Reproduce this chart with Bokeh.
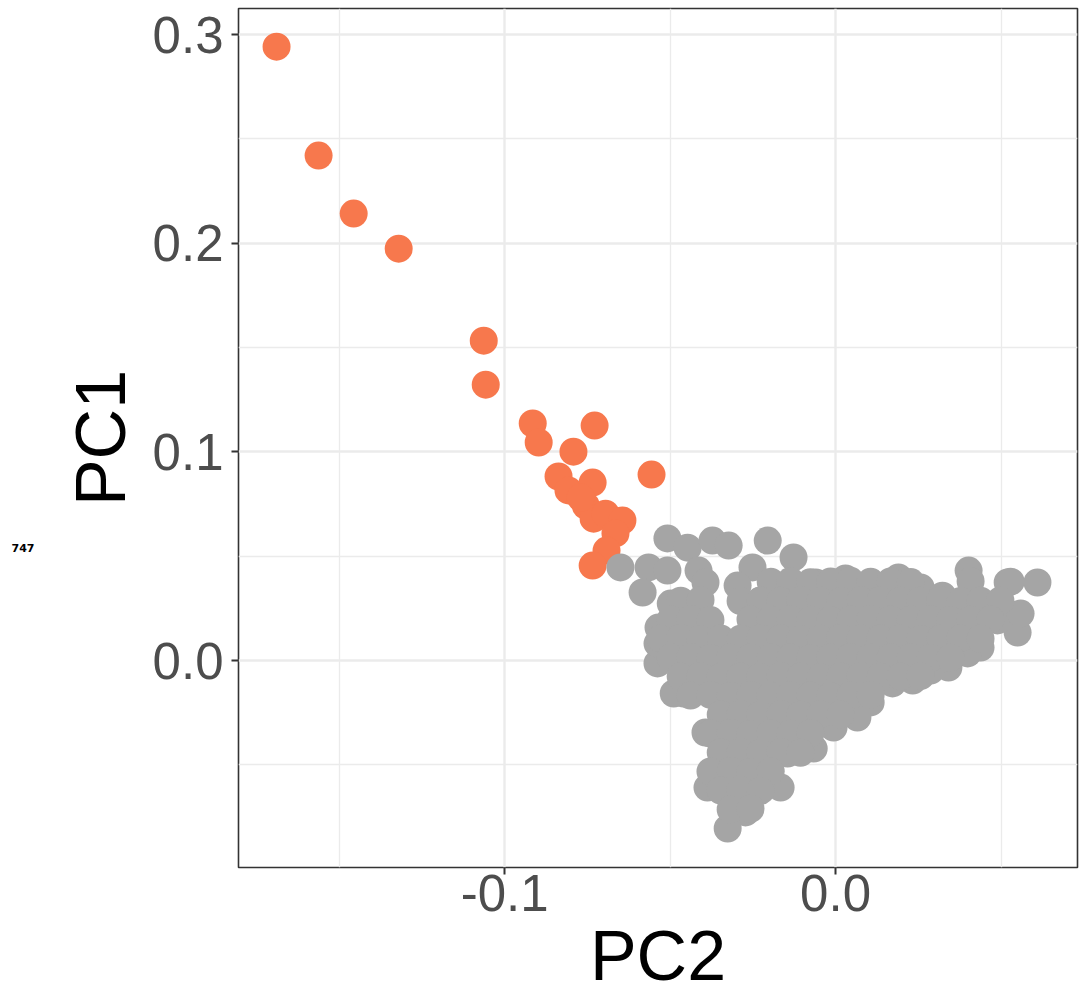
from bokeh.plotting import figure
from bokeh.models import FixedTicker, LinearAxis
from bokeh.embed import file_html
from bokeh.resources import INLINE

# Axis ticks
x_ticks = [-0.1, 0.0]
x_tick_labels = ["-0.1", "0.0"]
x_minor = [-0.15, -0.05, 0.05]
y_ticks = [0.0, 0.1, 0.2, 0.3]
y_tick_labels = ["0.0", "0.1", "0.2", "0.3"]
y_minor = [-0.05, 0.05, 0.15, 0.25]

# Sample count shown in the left margin
count_label = "747"
count_pos = 0.0541

# Highlighted samples (PC2, PC1)
orange_pc2 = [-0.1689, -0.1562, -0.1456, -0.1320, -0.1063, -0.1057, -0.0915, -0.0897,
              -0.0728, -0.0792, -0.0556, -0.0837, -0.0807, -0.0734, -0.0755, -0.0731,
              -0.0695, -0.0644, -0.0665, -0.0692, -0.0734, -0.0770]
orange_pc1 = [0.2942, 0.2420, 0.2142, 0.1974, 0.1533, 0.1322, 0.1136, 0.1045,
              0.1126, 0.1001, 0.0891, 0.0882, 0.0815, 0.0853, 0.0743, 0.0680,
              0.0704, 0.0671, 0.0609, 0.0527, 0.0455, 0.0781]

# Remaining samples (PC2, PC1)
gray_pc2 = [
    # outer samples
    -0.0508, -0.0447, -0.0372, -0.0323, -0.0205, -0.0127, -0.0650, -0.0565, -0.0508,
    -0.0583, -0.0414, -0.0393, -0.0251, -0.0296, -0.0227, -0.0060, 0.0030, 0.0106,
    0.0190, 0.0257, 0.0323, 0.0402, 0.0520, 0.0610, 0.0550, 0.0550, 0.0489, 0.0438,
    0.0399, 0.0341, 0.0287, 0.0233, 0.0172, 0.0106, 0.0066, -0.0006, -0.0066, -0.0145,
    -0.0166, -0.0248, -0.0272, -0.0326, -0.0387, -0.0372, -0.0393, -0.0459, -0.0489,
    -0.0538, -0.0538, -0.0535, -0.0498, 0.0559,
    # core
    -0.0196, -0.0136, -0.0076, -0.0015, 0.0045, 0.0106, 0.0166, 0.0227, 0.0408, 0.0529,
    -0.0468, -0.0408, -0.0287, -0.0227, -0.0166, -0.0106, -0.0045, 0.0015, 0.0076,
    0.0136, 0.0196, 0.0257, 0.0317, 0.0378, 0.0438, 0.0498,
    -0.0498, -0.0438, -0.0378, -0.0257, -0.0196, -0.0136, -0.0076, -0.0015, 0.0045,
    0.0106, 0.0166, 0.0227, 0.0287, 0.0347, 0.0408, 0.0468,
    -0.0529, -0.0468, -0.0408, -0.0347, -0.0287, -0.0227, -0.0166, -0.0106, -0.0045,
    0.0015, 0.0076, 0.0136, 0.0196, 0.0257, 0.0317, 0.0378, 0.0438,
    -0.0498, -0.0438, -0.0378, -0.0317, -0.0257, -0.0196, -0.0136, -0.0076, -0.0015,
    0.0045, 0.0106, 0.0166, 0.0227, 0.0287, 0.0347,
    -0.0468, -0.0408, -0.0347, -0.0287, -0.0227, -0.0166, -0.0106, -0.0045, 0.0015,
    0.0076, 0.0136, 0.0196, 0.0257,
    -0.0438, -0.0378, -0.0317, -0.0257, -0.0196, -0.0136, -0.0076, -0.0015, 0.0045, 0.0106,
    -0.0347, -0.0287, -0.0227, -0.0166, -0.0106, -0.0045, 0.0015,
    -0.0378, -0.0317, -0.0257, -0.0196, -0.0136, -0.0076,
    -0.0347, -0.0287, -0.0227, -0.0166, -0.0106,
    -0.0378, -0.0317, -0.0257, -0.0196,
    -0.0347, -0.0287, -0.0227,
    -0.0317, -0.0257,
]
gray_pc1 = [
    0.0585, 0.0541, 0.0575, 0.0551, 0.0575, 0.0494, 0.0446, 0.0446, 0.0431,
    0.0326, 0.0431, 0.0374, 0.0446, 0.0359, 0.0287, 0.0374, 0.0393, 0.0374,
    0.0398, 0.0350, 0.0311, 0.0431, 0.0374, 0.0374, 0.0216, 0.0134, 0.0192, 0.0062,
    0.0034, -0.0034, -0.0048, -0.0096, -0.0110, -0.0201, -0.0273, -0.0321, -0.0422, -0.0446,
    -0.0609, -0.0609, -0.0728, -0.0805, -0.0609, -0.0541, -0.0345, -0.0158, -0.0158,
    -0.0014, 0.0081, 0.0158, 0.0273, 0.0225,
    0.0378, 0.0381, 0.0375, 0.0379, 0.0382, 0.0377, 0.0379, 0.0376, 0.0380, 0.0378,
    0.0287, 0.0290, 0.0285, 0.0288, 0.0286, 0.0289, 0.0287, 0.0284, 0.0288,
    0.0290, 0.0286, 0.0287, 0.0289, 0.0285, 0.0287, 0.0288,
    0.0196, 0.0199, 0.0194, 0.0197, 0.0195, 0.0198, 0.0196, 0.0193, 0.0197,
    0.0199, 0.0195, 0.0196, 0.0198, 0.0194, 0.0196, 0.0197,
    0.0105, 0.0108, 0.0103, 0.0106, 0.0104, 0.0107, 0.0105, 0.0102, 0.0106,
    0.0108, 0.0104, 0.0105, 0.0107, 0.0103, 0.0105, 0.0106, 0.0104,
    0.0014, 0.0017, 0.0012, 0.0015, 0.0013, 0.0016, 0.0014, 0.0011, 0.0015,
    0.0017, 0.0013, 0.0014, 0.0016, 0.0012, 0.0014,
    -0.0077, -0.0074, -0.0079, -0.0076, -0.0078, -0.0075, -0.0077, -0.0080, -0.0076,
    -0.0074, -0.0078, -0.0077, -0.0075,
    -0.0168, -0.0165, -0.0170, -0.0167, -0.0169, -0.0166, -0.0168, -0.0171, -0.0167, -0.0165,
    -0.0259, -0.0256, -0.0261, -0.0258, -0.0260, -0.0257, -0.0259,
    -0.0350, -0.0347, -0.0352, -0.0349, -0.0351, -0.0348,
    -0.0441, -0.0438, -0.0443, -0.0440, -0.0442,
    -0.0532, -0.0529, -0.0534, -0.0531,
    -0.0623, -0.0620, -0.0625,
    -0.0714, -0.0711,
]

TICK_FONT = "Liberation Sans"

p = figure(
    width=1079, height=998,
    x_range=(-0.1804, 0.0731), y_range=(-0.0992, 0.3125),
    min_border_left=238, min_border_right=2, min_border_top=8, min_border_bottom=131,
    output_backend="svg", toolbar_location=None,
    background_fill_color="white", border_fill_color="white",
)

p.outline_line_color = "#333333"
p.outline_line_width = 1.6

p.xaxis.ticker = FixedTicker(ticks=x_ticks, minor_ticks=x_minor)
p.yaxis.ticker = FixedTicker(ticks=y_ticks, minor_ticks=y_minor)
p.xaxis.major_label_overrides = {t: s for t, s in zip(x_ticks, x_tick_labels)}
p.yaxis.major_label_overrides = {t: s for t, s in zip(y_ticks, y_tick_labels)}

for g in (p.xgrid, p.ygrid):
    g.grid_line_color = "#EBEBEB"
    g.grid_line_width = 2.4
    g.minor_grid_line_color = "#EBEBEB"
    g.minor_grid_line_width = 1.3

for ax in (p.xaxis, p.yaxis):
    ax.axis_line_color = None
    ax.major_tick_out = 7
    ax.major_tick_in = 0
    ax.major_tick_line_color = "#333333"
    ax.major_tick_line_width = 2
    ax.minor_tick_out = 0
    ax.minor_tick_in = 0
    ax.major_label_text_font = TICK_FONT
    ax.major_label_text_font_size = "51px"
    ax.major_label_text_color = "#4D4D4D"
    ax.axis_label_text_font = TICK_FONT
    ax.axis_label_text_font_size = "70px"
    ax.axis_label_text_font_style = "normal"
    ax.axis_label_text_color = "black"

p.xaxis.axis_label = "PC2"
p.yaxis.axis_label = "PC1"
p.xaxis.major_label_standoff = 0
p.xaxis.axis_label_standoff = 3
p.yaxis.major_label_standoff = 8
p.yaxis.axis_label_standoff = 10

# Outer left axis carrying only the sample count
count_axis = LinearAxis(
    ticker=FixedTicker(ticks=[count_pos], minor_ticks=[]),
    major_label_overrides={count_pos: count_label},
    axis_line_color=None, major_tick_out=0, major_tick_in=0,
    minor_tick_out=0, minor_tick_in=0, major_label_standoff=24,
    major_label_text_font="DejaVu Sans", major_label_text_font_size="11px",
    major_label_text_font_style="bold", major_label_text_color="black",
)
p.add_layout(count_axis, "left")

p.scatter(orange_pc2, orange_pc1, size=28, fill_color="#F7784D", line_color=None)
p.scatter(gray_pc2, gray_pc1, size=28, fill_color="#A5A5A5", line_color=None)

open("out.html", "w").write(file_html(p, INLINE))
